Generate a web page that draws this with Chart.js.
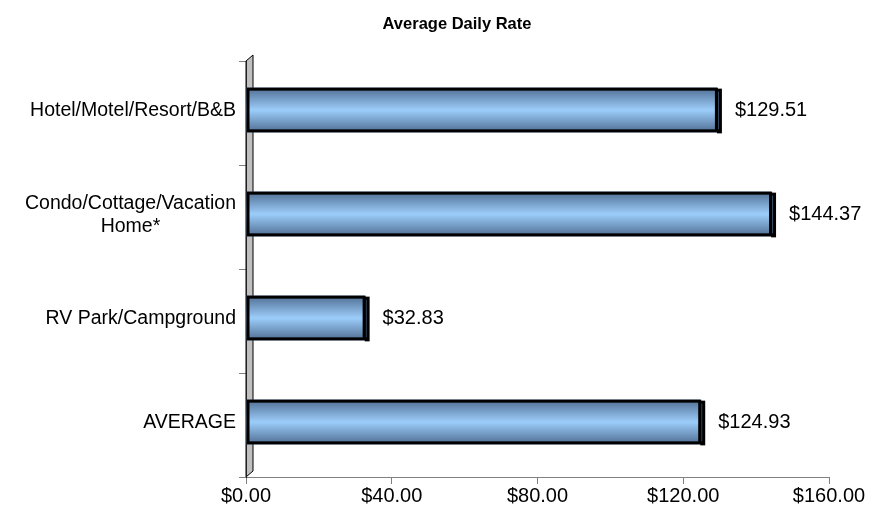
<!DOCTYPE html>
<html>
<head>
<meta charset="utf-8">
<script src="https://cdn.jsdelivr.net/npm/chart.js@4/dist/chart.umd.min.js"></script>
<style>
  html, body { margin: 0; padding: 0; background: #ffffff; }
  #wrap { width: 890px; height: 516px; position: relative; }
</style>
</head>
<body>
<div id="wrap"><canvas id="c" width="890" height="516"></canvas></div>
<script>
const titleText = 'Average Daily Rate';
const categories = [
  ['Hotel/Motel/Resort/B&B'],
  ['Condo/Cottage/Vacation', 'Home*'],
  ['RV Park/Campground'],
  ['AVERAGE']
];
const rates = [129.51, 144.37, 32.83, 124.93];
const xTickValues = [0, 40, 80, 120, 160];

const FONT = '"Liberation Sans", Arial, sans-serif';
const money = v => '$' + Number(v).toFixed(2);

const wallPlugin = {
  id: 'wall',
  beforeDatasetsDraw(chart) {
    const { ctx, chartArea: a } = chart;
    const d = 7, dy = 6;
    ctx.save();
    ctx.beginPath();
    ctx.moveTo(a.left, a.top);
    ctx.lineTo(a.left + d, a.top - dy);
    ctx.lineTo(a.left + d, a.bottom - dy);
    ctx.lineTo(a.left, a.bottom);
    ctx.closePath();
    ctx.fillStyle = '#c0c0c0';
    ctx.fill();
    ctx.lineWidth = 1;
    ctx.strokeStyle = '#000000';
    ctx.stroke();
    ctx.beginPath();
    ctx.moveTo(a.left + 0.5, a.top);
    ctx.lineTo(a.left + 0.5, a.bottom);
    ctx.strokeStyle = '#202020';
    ctx.stroke();
    ctx.restore();
  }
};

const barPlugin = {
  id: 'bars3d',
  afterDatasetsDraw(chart) {
    const { ctx } = chart;
    const meta = chart.getDatasetMeta(0);
    meta.data.forEach((el, i) => {
      const h = el.height;
      const top = el.y - h / 2 - 3;
      const bot = el.y + h / 2 - 3;
      const left = el.base;
      const right = el.x;
      const depth = 4;
      ctx.save();
      // side depth
      ctx.fillStyle = '#000000';
      ctx.fillRect(right - 1, top + 1, depth + 1, bot - top);
      ctx.fillStyle = '#3a5068';
      ctx.fillRect(right, top + 4, 1, bot - top - 7);
      // front face
      const g = ctx.createLinearGradient(0, top, 0, bot);
      g.addColorStop(0, '#4f6d92');
      g.addColorStop(0.5, '#9ccdfa');
      g.addColorStop(1, '#4f6d92');
      ctx.fillStyle = g;
      ctx.fillRect(left, top, right - left - 1, bot - top);
      ctx.lineWidth = 3;
      ctx.strokeStyle = '#000000';
      ctx.strokeRect(left + 1.5, top + 1.5, right - left - 3, bot - top - 3);
      // value label
      ctx.fillStyle = '#000000';
      ctx.font = '20px ' + FONT;
      ctx.textAlign = 'left';
      ctx.textBaseline = 'middle';
      ctx.fillText(money(rates[i]), right + 17, top + h / 2);
      ctx.restore();
    });
  }
};

const labelPlugin = {
  id: 'labels',
  afterDraw(chart) {
    const { ctx } = chart;
    const y = chart.scales.y;
    ctx.save();
    ctx.font = '19.5px ' + FONT;
    ctx.fillStyle = '#000000';
    ctx.textBaseline = 'middle';
    ctx.textAlign = 'center';
    categories.forEach((lines, i) => {
      const cy = y.getPixelForValue(i) - 2;
      const maxW = Math.max(...lines.map(l => ctx.measureText(l).width));
      const cx = 236 - maxW / 2;
      const lh = 23;
      lines.forEach((l, k) => {
        ctx.fillText(l, cx, cy + (k - (lines.length - 1) / 2) * lh);
      });
    });
    ctx.font = 'bold 16.5px ' + FONT;
    ctx.textAlign = 'center';
    ctx.fillText(titleText, 457, 24);
    ctx.restore();
  }
};

new Chart(document.getElementById('c'), {
  type: 'bar',
  data: {
    labels: categories,
    datasets: [{
      data: rates,
      backgroundColor: 'rgba(0,0,0,0)',
      borderWidth: 0,
      categoryPercentage: 1,
      barPercentage: 0.43
    }]
  },
  plugins: [wallPlugin, barPlugin, labelPlugin],
  options: {
    indexAxis: 'y',
    responsive: false,
    animation: false,
    devicePixelRatio: 1,
    layout: { padding: { top: 61, right: 61, left: 0, bottom: 0 } },
    plugins: {
      legend: { display: false },
      title: { display: false },
      tooltip: { enabled: false }
    },
    scales: {
      x: {
        min: 0, max: 160,
        afterBuildTicks(scale) { scale.ticks = xTickValues.map(v => ({ value: v })); },
        afterFit(scale) { scale.height = 39; },
        grid: { drawOnChartArea: false, drawTicks: true, tickLength: 7, color: '#808080' },
        border: { display: true, color: '#808080' },
        ticks: {
          color: '#000000',
          font: { family: FONT, size: 20 },
          padding: 0,
          maxRotation: 0,
          autoSkip: false,
          callback: v => money(v)
        }
      },
      y: {
        afterFit(scale) { scale.width = 246; },
        grid: { offset: true, drawOnChartArea: false, drawTicks: true, tickLength: 7, color: '#808080' },
        border: { display: true, color: '#202020' },
        ticks: { display: false }
      }
    }
  }
});
</script>
</body>
</html>
